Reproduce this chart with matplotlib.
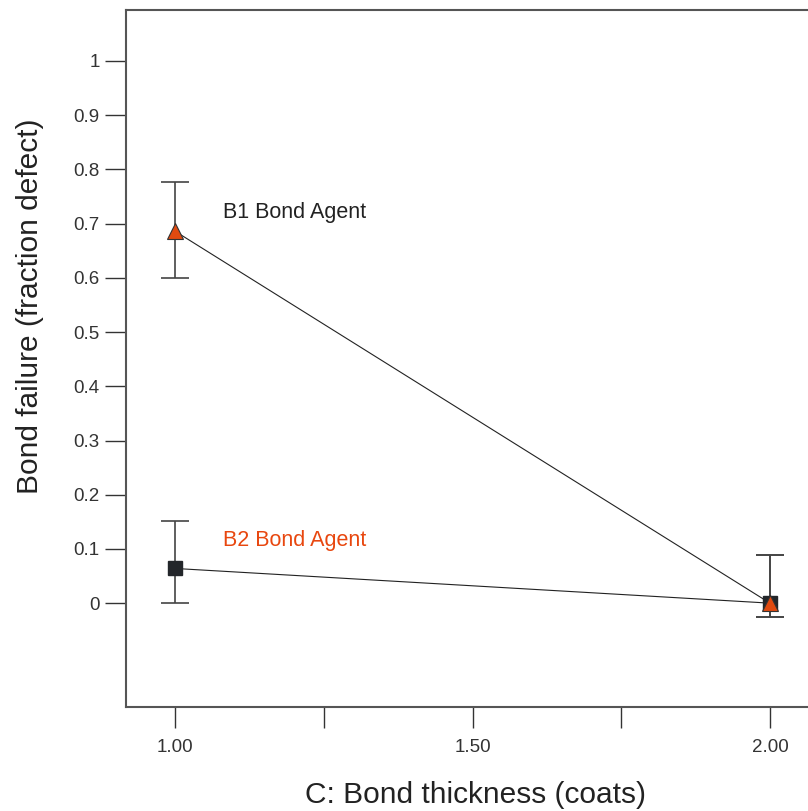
import matplotlib.pyplot as plt
from matplotlib.ticker import FixedLocator

plt.rcParams['font.family'] = ['Liberation Sans', 'DejaVu Sans']

# data
coats = [1.0, 2.0]
b1_mean = [0.686, 0.0]
b1_low = [0.600, -0.026]
b1_high = [0.777, 0.088]
b2_mean = [0.064, 0.0]
b2_low = [0.0, -0.026]
b2_high = [0.151, 0.088]

y_ticks = [0, 0.1, 0.2, 0.3, 0.4, 0.5, 0.6, 0.7, 0.8, 0.9, 1.0]
y_labels = ['0', '0.1', '0.2', '0.3', '0.4', '0.5', '0.6', '0.7', '0.8', '0.9', '1']
x_major = [1.0, 1.5, 2.0]
x_labels = ['1.00', '1.50', '2.00']
x_minor = [1.25, 1.75]

fig = plt.figure(figsize=(8.08, 8.11), dpi=100)
ax = fig.add_axes([0.156, 0.128, 0.844, 0.8597])

ax.set_xlim(0.9176, 2.0639)
ax.set_ylim(-0.1919, 1.0941)

spine_col = '#555555'
err_col = '#444444'


def errs(mean, low, high):
    return [[m - l for m, l in zip(mean, low)], [h - m for m, h in zip(mean, high)]]


# error bars
ax.errorbar(coats, b2_mean, yerr=errs(b2_mean, b2_low, b2_high), fmt='none',
            ecolor=err_col, elinewidth=1.2, capsize=10, capthick=1.2, zorder=2)
ax.errorbar(coats, b1_mean, yerr=errs(b1_mean, b1_low, b1_high), fmt='none',
            ecolor=err_col, elinewidth=1.2, capsize=10, capthick=1.2, zorder=2)

# lines and markers
ax.plot(coats, b2_mean, color='#222222', lw=0.8, zorder=3)
ax.plot(coats, b1_mean, color='#222222', lw=0.8, zorder=3)
ax.plot(coats, b2_mean, ls='none', marker='s', ms=10, mfc='#23262a',
        mec='#23262a', zorder=4)
ax.plot(coats, b1_mean, ls='none', marker='^', ms=11, mfc='#e04a10',
        mec='#333333', mew=0.8, zorder=5)

ax.text(1.08, 0.72, 'B1 Bond Agent', fontsize=15.5, color='#222222', va='center')
ax.text(1.08, 0.115, 'B2 Bond Agent', fontsize=15.5, color='#e8470f', va='center')

ax.yaxis.set_major_locator(FixedLocator(y_ticks))
ax.set_yticklabels(y_labels)
ax.xaxis.set_major_locator(FixedLocator(x_major))
ax.set_xticklabels(x_labels)
ax.xaxis.set_minor_locator(FixedLocator(x_minor))

ax.tick_params(axis='both', which='both', direction='out', length=15,
               width=1.0, color='#333333', labelsize=13.5, labelcolor='#333333')
ax.tick_params(axis='y', pad=4)
ax.tick_params(axis='x', pad=8)

for side in ['left', 'bottom', 'top']:
    ax.spines[side].set_color(spine_col)
    ax.spines[side].set_linewidth(1.5)
ax.spines['right'].set_visible(False)

ax.set_xlabel('C: Bond thickness (coats)', fontsize=21.5, color='#222222', va='center')
ax.set_ylabel('Bond failure (fraction defect)', fontsize=21.5, color='#222222', va='center')
ax.xaxis.set_label_coords(0.513, -0.126)
ax.yaxis.set_label_coords(-0.141, 0.575)

fig.savefig('out.png', dpi=100)
